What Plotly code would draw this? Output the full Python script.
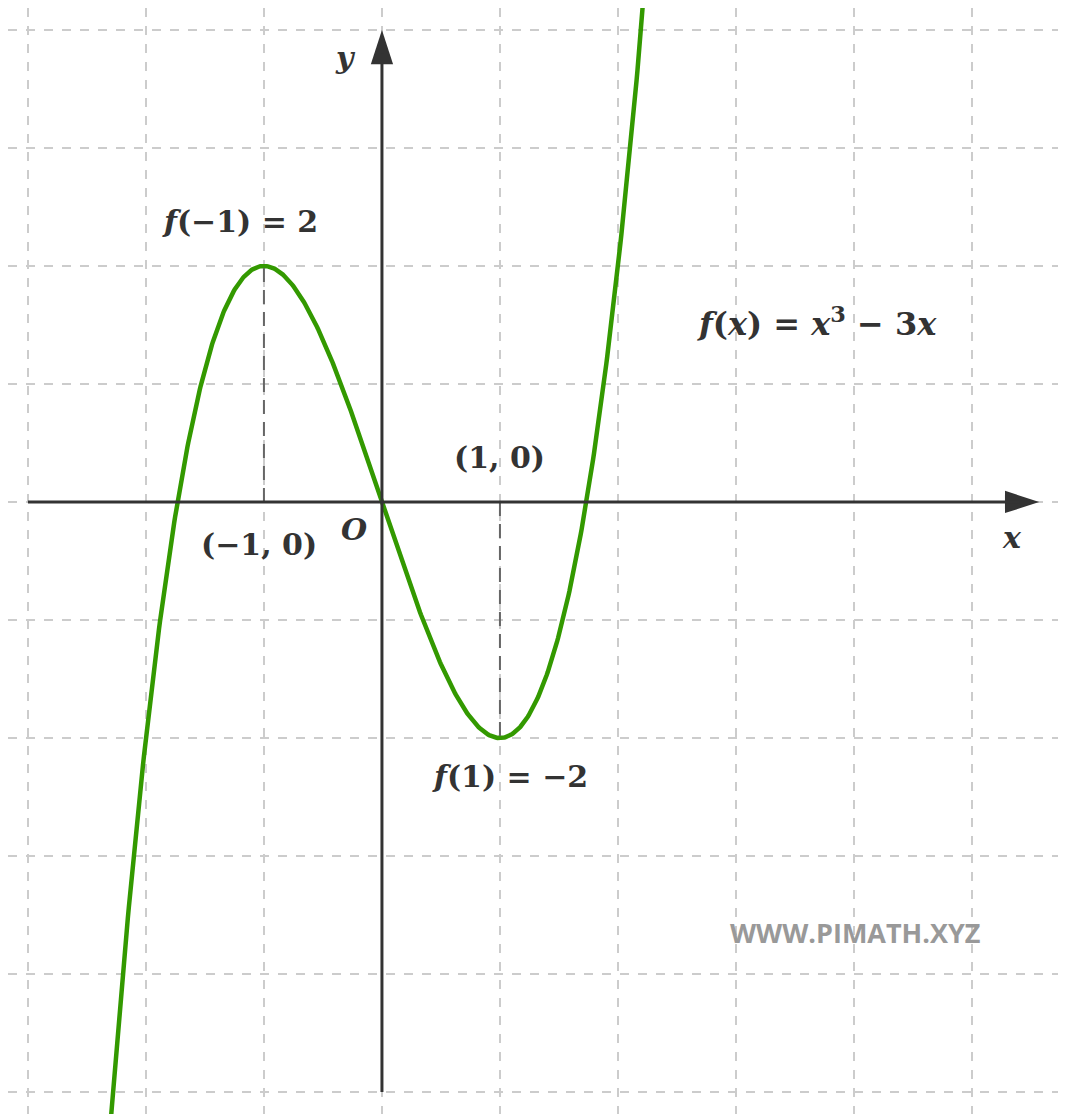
import numpy as np
import plotly.graph_objects as go

# f(x) = x^3 - 3x, sampled over the visible window
x_min, x_max = -2.45, 2.35
xs = np.linspace(x_min, x_max, 600)
ys = xs ** 3 - 3 * xs

crit_x = [-1, 1]
crit_y = [2, -2]

x_range = [-3.169, 5.797]
y_range = [-5.186, 4.186]

label_text = ["<i>y</i>", "<i>x</i>", "<i>O</i>",
              "<i>f</i>(−1) = 2", "(−1, 0)", "(1, 0)", "<i>f</i>(1) = −2",
              "<i>f</i>(<i>x</i>) = <i>x</i><sup>3</sup> − 3<i>x</i>"]
label_x = [-0.305, 5.34, -0.237, -1.203, -1.042, 1.0, 1.085, 3.686]
label_y = [3.77, -0.297, -0.237, 2.373, -0.364, 0.373, -2.33, 1.525]

ink = "#333333"
green = "#339900"

fig = go.Figure()

# dashed guides from the extrema to the x axis
for cx, cy in zip(crit_x, crit_y):
    fig.add_shape(type="line", x0=cx, y0=0, x1=cx, y1=cy, xref="x", yref="y",
                  line=dict(color="#666666", width=2, dash="14px,8px"), layer="above")

# axis lines
fig.add_shape(type="line", x0=-3, y0=0, x1=5.4, y1=0, xref="x", yref="y",
              line=dict(color=ink, width=3), layer="above")
fig.add_shape(type="line", x0=0, y0=-5, x1=0, y1=3.8, xref="x", yref="y",
              line=dict(color=ink, width=3), layer="above")

fig.add_trace(go.Scatter(x=xs, y=ys, mode="lines",
                         line=dict(color=green, width=4.5), hoverinfo="skip"))

# arrow heads (symbol tip sits on the point)
fig.add_trace(go.Scatter(x=[5.57, 0], y=[0, 4.0], mode="markers",
                         marker=dict(symbol="arrow", angle=[90, 0], size=36,
                                     color=ink, line=dict(width=0)),
                         hoverinfo="skip"))

for t, lx, ly in zip(label_text, label_x, label_y):
    size = 32 if "sup" in t else 30
    fig.add_annotation(x=lx, y=ly, text="<b>" + t + "</b>", showarrow=False,
                       font=dict(family="DejaVu Serif", size=size, color=ink))

fig.add_annotation(x=4.008, y=-3.644, text="<b>WWW.PIMATH.XYZ</b>", showarrow=False,
                   font=dict(family="Open Sans", size=27, color="#999999"))

grid = dict(showgrid=True, gridcolor="#cccccc", gridwidth=2, griddash="dash",
            dtick=1, zeroline=False, showticklabels=False, ticks="", showline=False)

fig.update_xaxes(range=x_range, tick0=0, **grid)
fig.update_yaxes(range=y_range, tick0=0, **grid)

fig.update_layout(width=1058, height=1106, margin=dict(l=0, r=0, t=0, b=0),
                  plot_bgcolor="white", paper_bgcolor="white", showlegend=False)

fig.write_html("out.html")
